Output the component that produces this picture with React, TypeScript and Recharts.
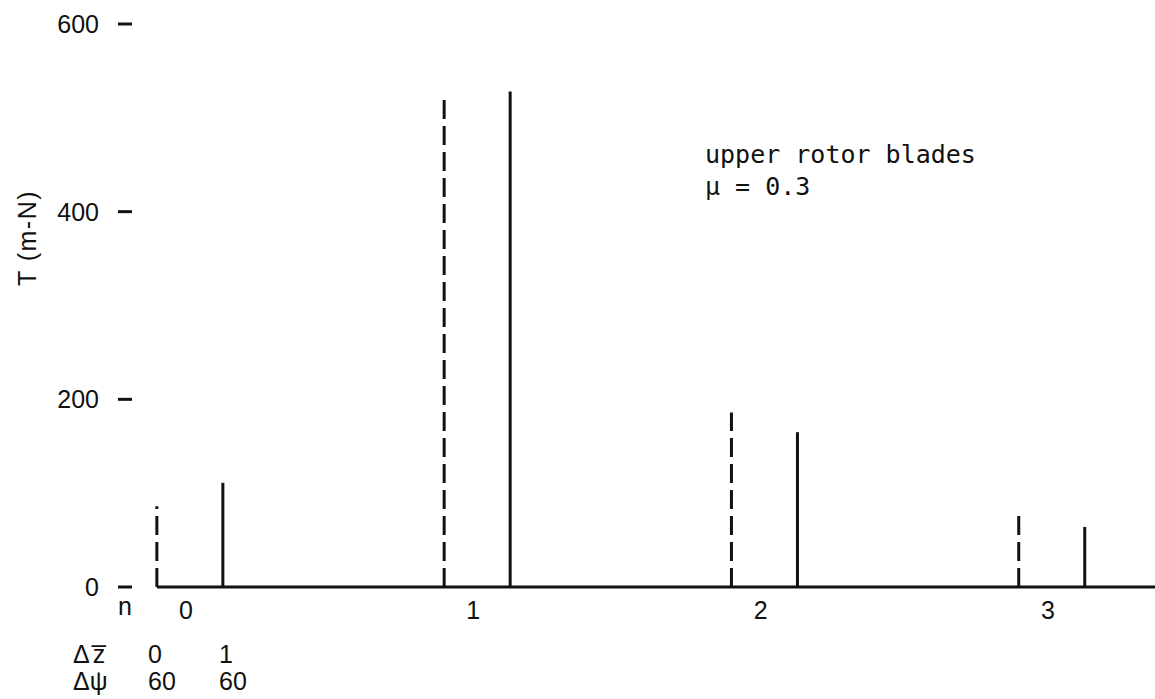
import { ComposedChart, Bar, XAxis, YAxis, Legend } from "recharts";

// harmonic number n and rotor blade moment T (m-N)
const harmonics = [0, 1, 2, 3];
const tDeltaZ0 = [86, 523, 186, 78]; // dashed: Δz̄ = 0, Δψ = 60
const tDeltaZ1 = [111, 528, 165, 64]; // solid: Δz̄ = 1, Δψ = 60
const yTicks = [0, 200, 400, 600];
const deltaZLabels = ["0", "1"];
const deltaPsiLabels = ["60", "60"];

const data = harmonics.map((n, i) => ({ n, dz0: tDeltaZ0[i], dz1: tDeltaZ1[i] }));

const SANS = "'Liberation Sans', Arial, sans-serif";
const MONO = "'DejaVu Sans Mono', monospace";

function StickShape(dashed: boolean) {
  return (props: any) => {
    const { x, y, width, height } = props;
    const cx = x + width / 2;
    return (
      <line
        x1={cx}
        y1={y + height}
        x2={cx}
        y2={y}
        stroke="#111"
        strokeWidth={3}
        strokeDasharray={dashed ? "19 7" : undefined}
      />
    );
  };
}

function YTick(props: any) {
  const { y, payload } = props;
  return (
    <g>
      <text x={99} y={y} dy={9} textAnchor="end" fontSize={25} fontFamily={SANS} fill="#111">
        {payload.value}
      </text>
      <line x1={118} x2={132} y1={y} y2={y} stroke="#111" strokeWidth={3} />
    </g>
  );
}

function XTick(props: any) {
  const { x, payload } = props;
  return (
    <text x={x - 4} y={619} textAnchor="middle" fontSize={25} fontFamily={SANS} fill="#111">
      {payload.value}
    </text>
  );
}

function DeltaTable() {
  return (
    <svg width={300} height={80} style={{ display: "block" }}>
      <g fontSize={25} fontFamily={SANS} fill="#111">
        <text x={73} y={33} letterSpacing={3}>{"\u0394z\u0305"}</text>
        <text x={73} y={60}>{"\u0394\u03c8"}</text>
        {deltaZLabels.map((v, i) => (
          <text key={"z" + i} x={148 + i * 71} y={33}>{v}</text>
        ))}
        {deltaPsiLabels.map((v, i) => (
          <text key={"p" + i} x={148 + i * 71} y={60}>{v}</text>
        ))}
      </g>
    </svg>
  );
}

export default function App() {
  return (
    <div style={{ position: "absolute", left: 0, top: 0, width: 1155, height: 699, background: "#fff" }}>
      <ComposedChart
        width={1155}
        height={699}
        data={data}
        margin={{ top: 24, right: 0, bottom: 72, left: 0 }}
        barGap={63}
      >
        <XAxis
          type="number"
          dataKey="n"
          domain={[-0.1149, 3.3589]}
          ticks={harmonics}
          height={40}
          axisLine={{ stroke: "#111", strokeWidth: 3 }}
          tickLine={false}
          tick={<XTick />}
          label={() => (
            <text x={125} y={615} textAnchor="middle" fontSize={25} fontFamily={SANS} fill="#111">
              n
            </text>
          )}
        />
        <YAxis
          width={157}
          domain={[0, 600]}
          ticks={yTicks}
          axisLine={false}
          tickLine={false}
          tick={<YTick />}
          label={() => (
            <text
              x={27}
              y={238}
              transform="rotate(-90 27 238)"
              textAnchor="middle"
              dominantBaseline="central"
              fontSize={25}
              fontFamily={SANS}
              letterSpacing={1.5}
              fill="#111"
            >
              T (m-N)
            </text>
          )}
        />
        <Bar dataKey="dz0" barSize={3} shape={StickShape(true)} isAnimationActive={false} />
        <Bar dataKey="dz1" barSize={3} shape={StickShape(false)} isAnimationActive={false} />
        <Legend
          layout="horizontal"
          verticalAlign="middle"
          align="center"
          wrapperStyle={{ left: 0, top: 630, width: 300, height: 80 }}
          content={() => <DeltaTable />}
        />
      </ComposedChart>
      <svg
        width={1155}
        height={699}
        style={{ position: "absolute", left: 0, top: 0, pointerEvents: "none" }}
      >
        <g fontSize={25} fontFamily={MONO} fill="#111">
          <text x={705} y={163}>upper rotor blades</text>
          <text x={705} y={195}>{"\u03bc = 0.3"}</text>
        </g>
      </svg>
    </div>
  );
}
